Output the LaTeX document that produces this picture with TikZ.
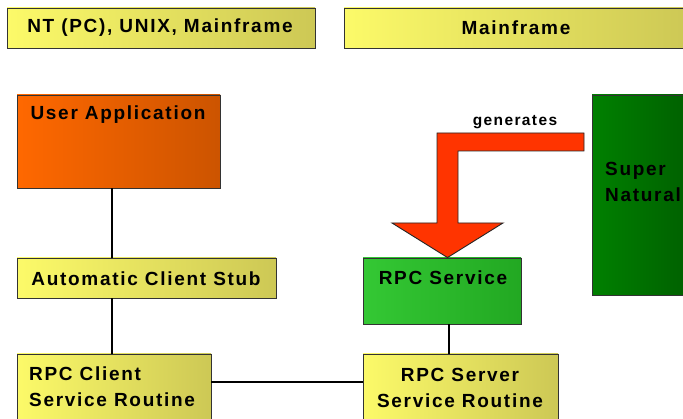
\documentclass[tikz,border=0pt]{standalone}
\usepackage{fontspec}
\setmainfont{Liberation Sans}[LetterSpace=9]
\begin{document}
\begin{tikzpicture}[x=1pt,y=-1pt,
  box/.style={draw=black!80, line width=0.9pt, inner sep=0pt, rectangle},
  ybox/.style={box, left color=yelL, right color=yelR},
  lbl/.style={font=\fontsize{19}{26}\selectfont\bfseries, inner sep=0pt, text=black},
  conn/.style={line width=2pt, black}]
\definecolor{yelL}{RGB}{252,250,105}
\definecolor{yelR}{RGB}{205,200,85}
\definecolor{orL}{RGB}{255,104,0}
\definecolor{orR}{RGB}{204,84,0}
\definecolor{grL}{RGB}{52,200,52}
\definecolor{grR}{RGB}{34,168,34}
\definecolor{dgL}{RGB}{0,128,0}
\definecolor{dgR}{RGB}{0,92,0}
\definecolor{arrowred}{RGB}{255,52,0}
\useasboundingbox (0,0) rectangle (683,419);
\clip (0,0) rectangle (683,419);
% top headers
\node[ybox, minimum width=308pt, minimum height=40pt] (hdrA) at (161,28) {};
\node[ybox, minimum width=344pt, minimum height=40pt] (hdrB) at (516,28) {};
\node[lbl] (hdrAt) at (160,28) {NT (PC), UNIX, Mainframe};
\node[lbl] (hdrBt) at (516,28) {Mainframe};
% boxes
\node[box, left color=orL, right color=orR, minimum width=203pt, minimum height=93pt] (user) at (118.5,141.5) {};
\node[ybox, minimum width=259pt, minimum height=40pt] (stub) at (146.5,278) {};
\node[box, left color=grL, right color=grR, minimum width=158pt, minimum height=66pt] (svc) at (442,291) {};
\node[ybox, minimum width=194pt, minimum height=72pt] (client) at (114,390) {};
\node[ybox, minimum width=195pt, minimum height=72pt] (server) at (460.5,390) {};
\node[box, left color=dgL, right color=dgR, minimum width=110pt, minimum height=200pt] (super) at (647,195) {};
% texts
\node[lbl] (usert) at (118,115) {User Application};
\node[lbl] (stubt) at (146,279) {Automatic Client Stub};
\node[lbl] (svct) at (443,278) {RPC Service};
\node[lbl, align=left, anchor=west] (clientt) at (29,387) {RPC Client\\Service Routine};
\node[lbl, align=center] (servert) at (460,388) {RPC Server\\Service Routine};
\node[lbl, align=left, anchor=west] (supert) at (605,181.5) {Super\\Natural};
\node[lbl, font=\fontsize{15.5}{18}\selectfont\bfseries] (gen) at (515,122) {generates};
% arrow
\draw[fill=arrowred, draw=black!85, line width=0.9pt]
  (584,133) -- (437,133) -- (437,223) -- (392,223) -- (svc.north -| 447.5,0) -- (503,223)
  -- (458,223) -- (458,151) -- (584,151) -- cycle;
% connectors
\coordinate (lx) at (112,0);
\coordinate (rx) at (449,0);
\coordinate (hy) at (0,382);
\draw[conn] (lx |- user.south) -- (lx |- stub.north);
\draw[conn] (lx |- stub.south) -- (lx |- client.north);
\draw[conn] (rx |- svc.south) -- (rx |- server.north);
\draw[conn] (client.east |- hy) -- (server.west |- hy);
\end{tikzpicture}
\end{document}
